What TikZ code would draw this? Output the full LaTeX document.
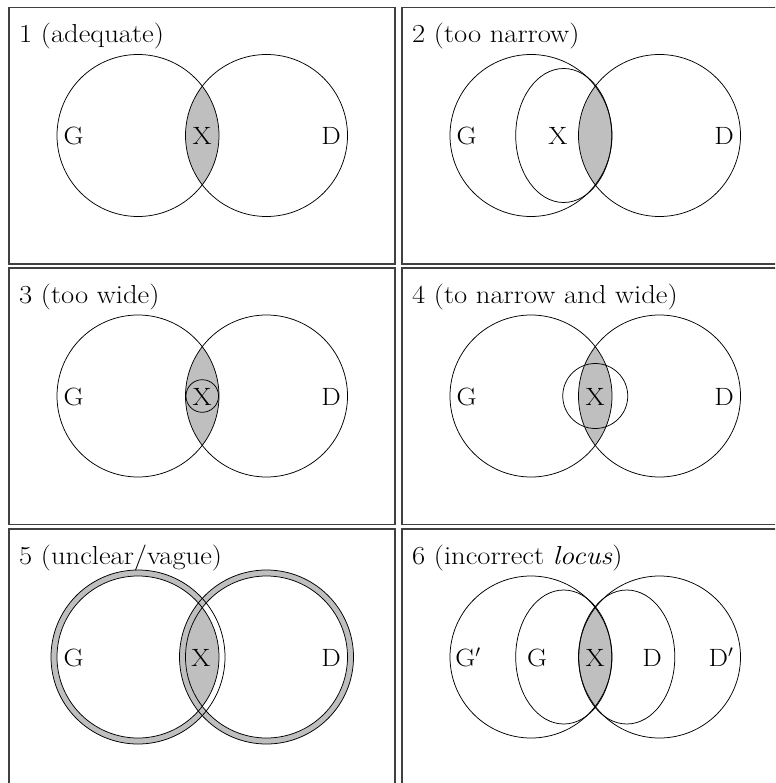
\documentclass[tikz,border=0pt]{standalone}
\usepackage{fontspec}
\setmainfont{Latin Modern Roman}[FakeStretch=1.1]
\newcommand\mylensfill{%
  \begin{scope}
    \clip (138,135.5) circle (81);
    \fill[lensfill] (266.5,135.5) circle (81);
  \end{scope}}
\newcommand\mytwocircles{%
  \draw[venn] (138,135.5) circle (81);
  \draw[venn] (266.5,135.5) circle (81);}
\begin{document}
\begin{tikzpicture}[x=1pt,y=-1pt,
  panel/.style={draw=black!75,line width=1.6pt},
  venn/.style={draw=black,line width=0.75pt},
  lensfill/.style={fill=black!25},
  lbl/.style={anchor=base,inner sep=0pt,font=\fontsize{25}{30}\selectfont},
  ttl/.style={anchor=base west,inner sep=0pt,font=\fontsize{26}{30}\selectfont}]
\useasboundingbox (0,0) rectangle (775,783);
\clip (0,0) rectangle (775,783);
\fill[white] (0,0) rectangle (775,783);

% ---------- panel 1
\begin{scope}
  \draw[panel] (9,7.5) rectangle (395,264);
  \mylensfill
  \mytwocircles
  \node[ttl] (t1) at (19,43) {1 (adequate)};
  \node[lbl] (g1) at (73.5,145) {G};
  \node[lbl] (x1) at (202.25,145) {X};
  \node[lbl] (d1) at (331,145) {D};
\end{scope}

% ---------- panel 2
\begin{scope}[shift={(393,0)}]
  \draw[panel] (9,7.5) rectangle (395,264);
  \mylensfill
  \mytwocircles
  \draw[venn] (170.7,135.5) ellipse [x radius=48,y radius=67];
  \node[ttl] (t2) at (19,43) {2 (too narrow)};
  \node[lbl] (g2) at (73.5,145) {G};
  \node[lbl] (x2) at (165,145) {X};
  \node[lbl] (d2) at (331,145) {D};
\end{scope}

% ---------- panel 3
\begin{scope}[shift={(0,260.5)}]
  \draw[panel] (9,7.5) rectangle (395,264);
  \mylensfill
  \mytwocircles
  \draw[venn] (202.25,135.5) circle (16.3);
  \node[ttl] (t3) at (19,43) {3 (too wide)};
  \node[lbl] (g3) at (73.5,145) {G};
  \node[lbl] (x3) at (202.25,145) {X};
  \node[lbl] (d3) at (331,145) {D};
\end{scope}

% ---------- panel 4
\begin{scope}[shift={(393,260.5)}]
  \draw[panel] (9,7.5) rectangle (395,264);
  \mylensfill
  \mytwocircles
  \draw[venn] (202.25,135.5) circle (32.5);
  \node[ttl] (t4) at (19,43) {4 (to narrow and wide)};
  \node[lbl] (g4) at (73.5,145) {G};
  \node[lbl] (x4) at (202.25,145) {X};
  \node[lbl] (d4) at (331,145) {D};
\end{scope}

% ---------- panel 5
\begin{scope}[shift={(0,521.5)}]
  \draw[panel] (9,7.5) rectangle (395,264);
  \fill[black!25] (138,135.5) circle (87);
  \fill[white] (138,135.5) circle (81);
  \fill[black!25] (266.5,135.5) circle (87);
  \fill[white] (266.5,135.5) circle (81);
  \mylensfill
  \draw[venn] (138,135.5) circle (87);
  \draw[venn] (266.5,135.5) circle (87);
  \mytwocircles
  \node[ttl] (t5) at (19,43) {5 (unclear/vague)};
  \node[lbl] (g5) at (73.5,145) {G};
  \node[lbl] (x5) at (201,145) {X};
  \node[lbl] (d5) at (331,145) {D};
\end{scope}

% ---------- panel 6
\begin{scope}[shift={(393,521.5)}]
  \draw[panel] (9,7.5) rectangle (395,264);
  \mylensfill
  \mytwocircles
  \draw[venn] (170.7,135.5) ellipse [x radius=48,y radius=67];
  \draw[venn] (233.8,135.5) ellipse [x radius=48,y radius=67];
  \node[ttl] (t6) at (19,43) {6 (incorrect \textit{locus})};
  \node[lbl] (g6p) at (75,145) {G$'$};
  \node[lbl] (g6) at (144,145) {G};
  \node[lbl] (x6) at (202.25,145) {X};
  \node[lbl] (d6) at (259,145) {D};
  \node[lbl] (d6p) at (328,145) {D$'$};
\end{scope}
\end{tikzpicture}
\end{document}
